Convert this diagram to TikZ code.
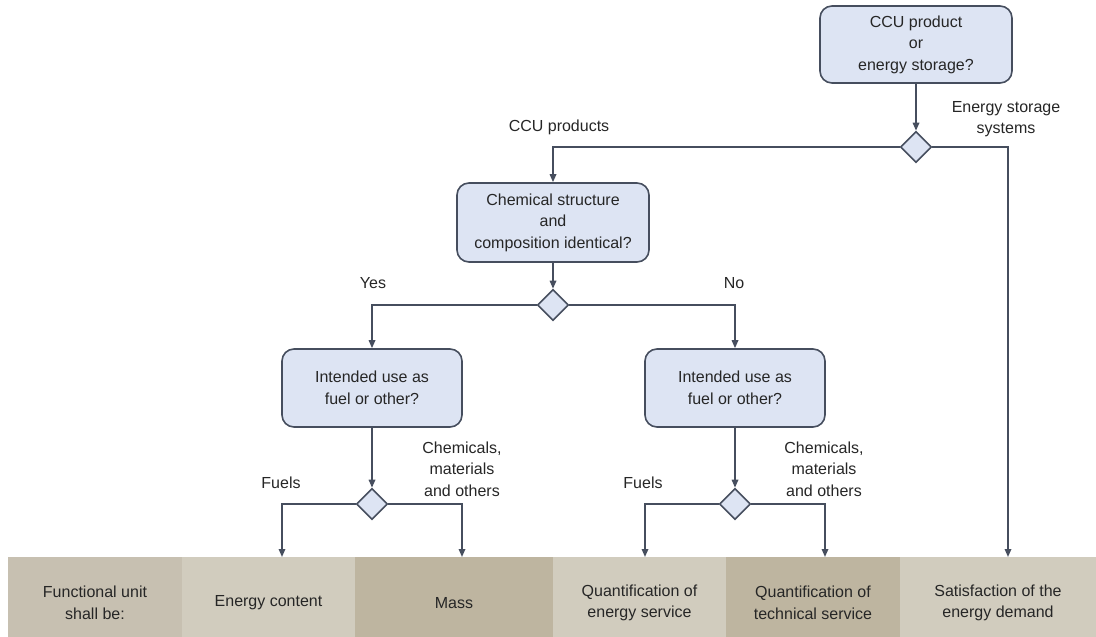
\documentclass[tikz,border=0pt]{standalone}
\usepackage{fontspec}
\setmainfont{Liberation Sans}
\usetikzlibrary{shapes.geometric,arrows.meta}
\definecolor{boxfill}{RGB}{221,228,243}
\definecolor{linec}{RGB}{70,78,94}
\definecolor{txt}{RGB}{38,38,38}
\definecolor{cellA}{RGB}{199,192,177}
\definecolor{cellB}{RGB}{209,204,190}
\definecolor{cellC}{RGB}{190,181,160}
\begin{document}
\begin{tikzpicture}[x=1pt,y=-1pt,
  every node/.style={font=\fontsize{16}{21.5}\selectfont, text=txt},
  qbox/.style={draw=linec, line width=1.6pt, fill=boxfill, rounded corners=12pt,
    align=center, inner sep=0pt, minimum height=78pt},
  choice/.style={draw=linec, line width=1.6pt, fill=boxfill, diamond, aspect=1,
    inner sep=0pt, minimum width=31pt, minimum height=31pt},
  cell/.style={rectangle, inner sep=0pt, align=center, minimum height=92pt},
  lbl/.style={align=center, inner sep=0pt},
  arr/.style={draw=linec, line width=1.6pt, -{Triangle[length=8pt,width=6.5pt]}},
  link/.style={draw=linec, line width=1.6pt}]
\useasboundingbox (0,0) rectangle (1096,637);

% bottom band with the functional units (runs past the lower page edge)
\node[cell, fill=cellA, minimum width=174pt] (c1) at (95,603) {Functional unit\\shall be:};
\node[cell, fill=cellB, minimum width=173pt] (c2) at (268.5,603) {Energy content};
\node[cell, fill=cellC, minimum width=198pt] (c3) at (454,603) {Mass};
\node[cell, fill=cellB, minimum width=173pt] (c4) at (639.5,603) {Quantification of\\energy service};
\node[cell, fill=cellC, minimum width=174pt] (c5) at (813,603) {Quantification of\\technical service};
\node[cell, fill=cellB, minimum width=196pt] (c6) at (998,603) {Satisfaction of the\\energy demand};

% questions
\node[qbox, minimum width=192pt, minimum height=77pt] (q1) at (916,44.5) {CCU product\\or\\energy storage?};
\node[qbox, minimum width=192pt, minimum height=79pt] (q2) at (553,222.5) {Chemical structure\\and\\composition identical?};
\node[qbox, minimum width=180pt] (q3) at (372,388) {Intended use as\\fuel or other?};
\node[qbox, minimum width=180pt] (q4) at (735,388) {Intended use as\\fuel or other?};

% decision points
\node[choice] (d1) at (916,147) {};
\node[choice] (d2) at (553,305) {};
\node[choice] (d3) at (372,504) {};
\node[choice] (d4) at (735,504) {};

% arrow ends on the band
\coordinate (e2) at (282,557);
\coordinate (e3) at (462,557);
\coordinate (e4) at (645,557);
\coordinate (e5) at (825,557);
\coordinate (e6) at (1008,557);

% connectors
\draw[arr] (q1.south) -- (d1.north);
\draw[arr] (d1.west) -| (q2.north);
\draw[arr] (d1.east) -| (e6);
\draw[arr] (q2.south) -- (d2.north);
\draw[arr] (d2.west) -| (q3.north);
\draw[arr] (d2.east) -| (q4.north);
\draw[arr] (q3.south) -- (d3.north);
\draw[arr] (q4.south) -- (d4.north);
\draw[arr] (d3.west) -| (e2);
\draw[arr] (d3.east) -| (e3);
\draw[arr] (d4.west) -| (e4);
\draw[arr] (d4.east) -| (e5);

% branch labels
\node[lbl] (lccu) at (559,127) {CCU products};
\node[lbl] (lstore) at (1006,119) {Energy storage\\systems};
\node[lbl] (lyes) at (373,283) {Yes};
\node[lbl] (lno) at (734,283) {No};
\node[lbl] (lf1) at (281,483) {Fuels};
\node[lbl] (lf2) at (643,483) {Fuels};
\node[lbl] (lc1) at (462,469) {Chemicals,\\materials\\and others};
\node[lbl] (lc2) at (824,469) {Chemicals,\\materials\\and others};
\end{tikzpicture}
\end{document}
